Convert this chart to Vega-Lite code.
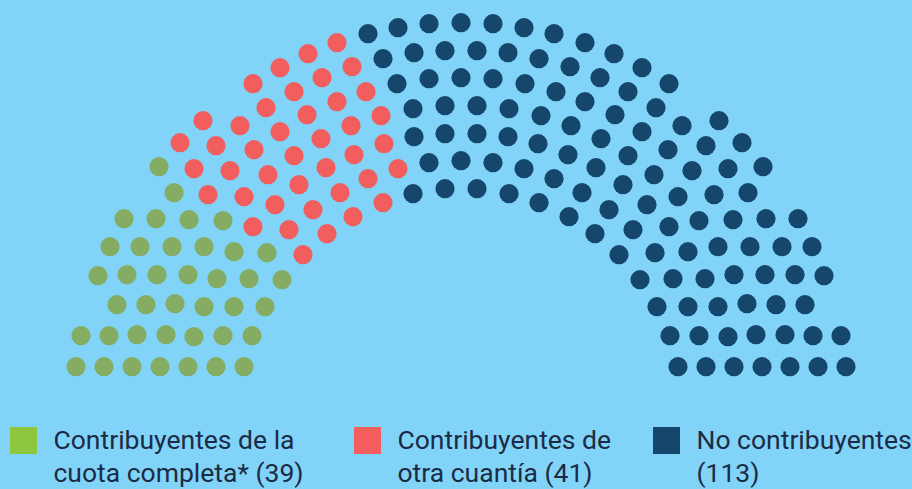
{
  "$schema": "https://vega.github.io/schema/vega-lite/v6.json",
  "width": 912,
  "height": 489,
  "autosize": {"type": "none"},
  "padding": 0,
  "background": "#81d3f7",
  "config": {
    "view": {"stroke": null},
    "style": {"guide-label": {"lineHeight": 33, "dy": 8}},
    "legend": {
      "orient": "none", "padding": 0, "symbolType": "square", "symbolSize": 729, "symbolStrokeWidth": 0,
      "symbolOpacity": 1, "labelFont": "Roboto", "labelFontSize": 26.5, "labelColor": "#1c2b45", "labelLimit": 400,
      "labelOffset": 16.5, "labelBaseline": "alphabetic"
    }
  },
  "datasets": {
    "escanos": [
      {"grupo": "Cuota completa", "x": -385, "y": 0}, {"grupo": "Cuota completa", "x": -357, "y": 0}, {"grupo": "Cuota completa", "x": -329, "y": 0}, {"grupo": "Cuota completa", "x": -301, "y": 0}, {"grupo": "Cuota completa", "x": -273, "y": 0}, {"grupo": "Cuota completa", "x": -245, "y": 0}, {"grupo": "Cuota completa", "x": -217, "y": 0},
      {"grupo": "Cuota completa", "x": -380, "y": 31}, {"grupo": "Cuota completa", "x": -352, "y": 31}, {"grupo": "Cuota completa", "x": -324, "y": 32}, {"grupo": "Cuota completa", "x": -295, "y": 32}, {"grupo": "Cuota completa", "x": -267, "y": 30}, {"grupo": "Cuota completa", "x": -238, "y": 31}, {"grupo": "Cuota completa", "x": -209, "y": 31},
      {"grupo": "Cuota completa", "x": -344, "y": 62}, {"grupo": "Cuota completa", "x": -315, "y": 62}, {"grupo": "Cuota completa", "x": -286, "y": 63}, {"grupo": "Cuota completa", "x": -257, "y": 60}, {"grupo": "Cuota completa", "x": -227, "y": 60}, {"grupo": "Cuota completa", "x": -196, "y": 60},
      {"grupo": "Cuota completa", "x": -363, "y": 91}, {"grupo": "Cuota completa", "x": -334, "y": 92}, {"grupo": "Cuota completa", "x": -304, "y": 92}, {"grupo": "Cuota completa", "x": -273, "y": 92}, {"grupo": "Cuota completa", "x": -244, "y": 88}, {"grupo": "Cuota completa", "x": -212, "y": 88}, {"grupo": "Cuota completa", "x": -179, "y": 87},
      {"grupo": "Cuota completa", "x": -351, "y": 120}, {"grupo": "Cuota completa", "x": -321, "y": 120}, {"grupo": "Cuota completa", "x": -289, "y": 120}, {"grupo": "Cuota completa", "x": -257, "y": 120}, {"grupo": "Cuota completa", "x": -227, "y": 115}, {"grupo": "Cuota completa", "x": -194, "y": 114},
      {"grupo": "Cuota completa", "x": -337, "y": 148}, {"grupo": "Cuota completa", "x": -305, "y": 148}, {"grupo": "Cuota completa", "x": -272, "y": 147}, {"grupo": "Cuota completa", "x": -238, "y": 146},
      {"grupo": "Cuota completa", "x": -287, "y": 174}, {"grupo": "Cuota completa", "x": -302, "y": 200},

      {"grupo": "Otra cuantía", "x": -158, "y": 112},
      {"grupo": "Otra cuantía", "x": -208, "y": 140}, {"grupo": "Otra cuantía", "x": -172, "y": 137}, {"grupo": "Otra cuantía", "x": -134, "y": 133},
      {"grupo": "Otra cuantía", "x": -253, "y": 172}, {"grupo": "Otra cuantía", "x": -217, "y": 170}, {"grupo": "Otra cuantía", "x": -186, "y": 162}, {"grupo": "Otra cuantía", "x": -148, "y": 157}, {"grupo": "Otra cuantía", "x": -108, "y": 150}, {"grupo": "Otra cuantía", "x": -78, "y": 164},
      {"grupo": "Otra cuantía", "x": -267, "y": 198}, {"grupo": "Otra cuantía", "x": -231, "y": 196}, {"grupo": "Otra cuantía", "x": -193, "y": 192}, {"grupo": "Otra cuantía", "x": -162, "y": 182}, {"grupo": "Otra cuantía", "x": -121, "y": 174}, {"grupo": "Otra cuantía", "x": -93, "y": 188}, {"grupo": "Otra cuantía", "x": -63, "y": 198},
      {"grupo": "Otra cuantía", "x": -281, "y": 224}, {"grupo": "Otra cuantía", "x": -245, "y": 221}, {"grupo": "Otra cuantía", "x": -207, "y": 217}, {"grupo": "Otra cuantía", "x": -167, "y": 211}, {"grupo": "Otra cuantía", "x": -135, "y": 199}, {"grupo": "Otra cuantía", "x": -107, "y": 212}, {"grupo": "Otra cuantía", "x": -77, "y": 223},
      {"grupo": "Otra cuantía", "x": -258, "y": 246}, {"grupo": "Otra cuantía", "x": -221, "y": 241}, {"grupo": "Otra cuantía", "x": -181, "y": 235}, {"grupo": "Otra cuantía", "x": -140, "y": 228}, {"grupo": "Otra cuantía", "x": -110, "y": 241}, {"grupo": "Otra cuantía", "x": -80, "y": 251},
      {"grupo": "Otra cuantía", "x": -195, "y": 259}, {"grupo": "Otra cuantía", "x": -154, "y": 252}, {"grupo": "Otra cuantía", "x": -124, "y": 265}, {"grupo": "Otra cuantía", "x": -95, "y": 275},
      {"grupo": "Otra cuantía", "x": -208, "y": 283}, {"grupo": "Otra cuantía", "x": -167, "y": 275}, {"grupo": "Otra cuantía", "x": -139, "y": 289}, {"grupo": "Otra cuantía", "x": -109, "y": 300},
      {"grupo": "Otra cuantía", "x": -181, "y": 299}, {"grupo": "Otra cuantía", "x": -153, "y": 313}, {"grupo": "Otra cuantía", "x": -124, "y": 324},

      {"grupo": "No contribuyentes", "x": -93, "y": 333}, {"grupo": "No contribuyentes", "x": -63, "y": 339}, {"grupo": "No contribuyentes", "x": -32, "y": 343},
      {"grupo": "No contribuyentes", "x": -78, "y": 308}, {"grupo": "No contribuyentes", "x": -47, "y": 314}, {"grupo": "No contribuyentes", "x": -16, "y": 316},
      {"grupo": "No contribuyentes", "x": -64, "y": 283}, {"grupo": "No contribuyentes", "x": -32, "y": 288},
      {"grupo": "No contribuyentes", "x": -48, "y": 258}, {"grupo": "No contribuyentes", "x": -16, "y": 261},
      {"grupo": "No contribuyentes", "x": -47, "y": 230}, {"grupo": "No contribuyentes", "x": -16, "y": 233},
      {"grupo": "No contribuyentes", "x": -32, "y": 204},
      {"grupo": "No contribuyentes", "x": -48, "y": 173}, {"grupo": "No contribuyentes", "x": -16, "y": 178},
      {"grupo": "No contribuyentes", "x": 0, "y": 344}, {"grupo": "No contribuyentes", "x": 0, "y": 289}, {"grupo": "No contribuyentes", "x": 0, "y": 206},
      {"grupo": "No contribuyentes", "x": 93, "y": 333}, {"grupo": "No contribuyentes", "x": 63, "y": 339}, {"grupo": "No contribuyentes", "x": 32, "y": 343},
      {"grupo": "No contribuyentes", "x": 78, "y": 308}, {"grupo": "No contribuyentes", "x": 47, "y": 314}, {"grupo": "No contribuyentes", "x": 16, "y": 316},
      {"grupo": "No contribuyentes", "x": 64, "y": 283}, {"grupo": "No contribuyentes", "x": 32, "y": 288},
      {"grupo": "No contribuyentes", "x": 48, "y": 258}, {"grupo": "No contribuyentes", "x": 16, "y": 261},
      {"grupo": "No contribuyentes", "x": 47, "y": 230}, {"grupo": "No contribuyentes", "x": 16, "y": 233},
      {"grupo": "No contribuyentes", "x": 32, "y": 204},
      {"grupo": "No contribuyentes", "x": 48, "y": 173}, {"grupo": "No contribuyentes", "x": 16, "y": 178},
      {"grupo": "No contribuyentes", "x": 158, "y": 112},
      {"grupo": "No contribuyentes", "x": 208, "y": 140}, {"grupo": "No contribuyentes", "x": 172, "y": 137}, {"grupo": "No contribuyentes", "x": 134, "y": 133},
      {"grupo": "No contribuyentes", "x": 253, "y": 172}, {"grupo": "No contribuyentes", "x": 217, "y": 170}, {"grupo": "No contribuyentes", "x": 186, "y": 162}, {"grupo": "No contribuyentes", "x": 148, "y": 157}, {"grupo": "No contribuyentes", "x": 108, "y": 150}, {"grupo": "No contribuyentes", "x": 78, "y": 164},
      {"grupo": "No contribuyentes", "x": 267, "y": 198}, {"grupo": "No contribuyentes", "x": 231, "y": 196}, {"grupo": "No contribuyentes", "x": 193, "y": 192}, {"grupo": "No contribuyentes", "x": 162, "y": 182}, {"grupo": "No contribuyentes", "x": 121, "y": 174}, {"grupo": "No contribuyentes", "x": 93, "y": 188}, {"grupo": "No contribuyentes", "x": 63, "y": 198},
      {"grupo": "No contribuyentes", "x": 281, "y": 224}, {"grupo": "No contribuyentes", "x": 245, "y": 221}, {"grupo": "No contribuyentes", "x": 207, "y": 217}, {"grupo": "No contribuyentes", "x": 167, "y": 211}, {"grupo": "No contribuyentes", "x": 135, "y": 199}, {"grupo": "No contribuyentes", "x": 107, "y": 212}, {"grupo": "No contribuyentes", "x": 77, "y": 223},
      {"grupo": "No contribuyentes", "x": 258, "y": 246}, {"grupo": "No contribuyentes", "x": 221, "y": 241}, {"grupo": "No contribuyentes", "x": 181, "y": 235}, {"grupo": "No contribuyentes", "x": 140, "y": 228}, {"grupo": "No contribuyentes", "x": 110, "y": 241}, {"grupo": "No contribuyentes", "x": 80, "y": 251},
      {"grupo": "No contribuyentes", "x": 195, "y": 259}, {"grupo": "No contribuyentes", "x": 154, "y": 252}, {"grupo": "No contribuyentes", "x": 124, "y": 265}, {"grupo": "No contribuyentes", "x": 95, "y": 275},
      {"grupo": "No contribuyentes", "x": 208, "y": 283}, {"grupo": "No contribuyentes", "x": 167, "y": 275}, {"grupo": "No contribuyentes", "x": 139, "y": 289}, {"grupo": "No contribuyentes", "x": 109, "y": 300},
      {"grupo": "No contribuyentes", "x": 181, "y": 299}, {"grupo": "No contribuyentes", "x": 153, "y": 313}, {"grupo": "No contribuyentes", "x": 124, "y": 324},
      {"grupo": "No contribuyentes", "x": 385, "y": 0}, {"grupo": "No contribuyentes", "x": 357, "y": 0}, {"grupo": "No contribuyentes", "x": 329, "y": 0}, {"grupo": "No contribuyentes", "x": 301, "y": 0}, {"grupo": "No contribuyentes", "x": 273, "y": 0}, {"grupo": "No contribuyentes", "x": 245, "y": 0}, {"grupo": "No contribuyentes", "x": 217, "y": 0},
      {"grupo": "No contribuyentes", "x": 380, "y": 31}, {"grupo": "No contribuyentes", "x": 352, "y": 31}, {"grupo": "No contribuyentes", "x": 324, "y": 32}, {"grupo": "No contribuyentes", "x": 295, "y": 32}, {"grupo": "No contribuyentes", "x": 267, "y": 30}, {"grupo": "No contribuyentes", "x": 238, "y": 31}, {"grupo": "No contribuyentes", "x": 209, "y": 31},
      {"grupo": "No contribuyentes", "x": 344, "y": 62}, {"grupo": "No contribuyentes", "x": 315, "y": 62}, {"grupo": "No contribuyentes", "x": 286, "y": 63}, {"grupo": "No contribuyentes", "x": 257, "y": 60}, {"grupo": "No contribuyentes", "x": 227, "y": 60}, {"grupo": "No contribuyentes", "x": 196, "y": 60},
      {"grupo": "No contribuyentes", "x": 363, "y": 91}, {"grupo": "No contribuyentes", "x": 334, "y": 92}, {"grupo": "No contribuyentes", "x": 304, "y": 92}, {"grupo": "No contribuyentes", "x": 273, "y": 92}, {"grupo": "No contribuyentes", "x": 244, "y": 88}, {"grupo": "No contribuyentes", "x": 212, "y": 88}, {"grupo": "No contribuyentes", "x": 179, "y": 87},
      {"grupo": "No contribuyentes", "x": 351, "y": 120}, {"grupo": "No contribuyentes", "x": 321, "y": 120}, {"grupo": "No contribuyentes", "x": 289, "y": 120}, {"grupo": "No contribuyentes", "x": 257, "y": 120}, {"grupo": "No contribuyentes", "x": 227, "y": 115}, {"grupo": "No contribuyentes", "x": 194, "y": 114},
      {"grupo": "No contribuyentes", "x": 337, "y": 148}, {"grupo": "No contribuyentes", "x": 305, "y": 148}, {"grupo": "No contribuyentes", "x": 272, "y": 147}, {"grupo": "No contribuyentes", "x": 238, "y": 146},
      {"grupo": "No contribuyentes", "x": 287, "y": 174}, {"grupo": "No contribuyentes", "x": 302, "y": 200}
    ]
  },
  "data": {"name": "escanos"},
  "encoding": {
    "x": {"field": "x", "type": "quantitative", "scale": {"domain": [-461, 451], "nice": false, "zero": false}, "axis": null},
    "y": {"field": "y", "type": "quantitative", "scale": {"domain": [-122.3, 366.7], "nice": false, "zero": false}, "axis": null}
  },
  "layer": [
    {
      "mark": {"type": "point", "shape": "circle", "filled": true, "opacity": 1, "size": 370, "strokeWidth": 0},
      "encoding": {
        "color": {
          "field": "grupo", "type": "nominal",
          "scale": {"domain": ["Cuota completa", "Otra cuantía", "No contribuyentes"], "range": ["#84ad63", "#f25e5e", "#15466b"]},
          "legend": null
        }
      }
    },
    {
      "transform": [{"filter": "datum.grupo === 'Cuota completa'"}],
      "mark": {"type": "point", "shape": "square", "filled": true, "opacity": 0, "size": 10},
      "encoding": {
        "fill": {
          "field": "grupo", "type": "nominal",
          "scale": {"domain": ["Cuota completa"], "range": ["#8dc63f"]},
          "legend": {"title": null, "legendX": 10, "legendY": 427, "labelExpr": "['Contribuyentes de la', 'cuota completa* (39)']"}
        }
      }
    },
    {
      "transform": [{"filter": "datum.grupo === 'Otra cuantía'"}],
      "mark": {"type": "point", "shape": "square", "filled": true, "opacity": 0, "size": 10},
      "encoding": {
        "fill": {
          "field": "grupo", "type": "nominal",
          "scale": {"domain": ["Otra cuantía"], "range": ["#f45e5e"]},
          "legend": {"title": null, "legendX": 354, "legendY": 427, "labelExpr": "['Contribuyentes de', 'otra cuantía (41)']"}
        }
      }
    },
    {
      "transform": [{"filter": "datum.grupo === 'No contribuyentes'"}],
      "mark": {"type": "point", "shape": "square", "filled": true, "opacity": 0, "size": 10},
      "encoding": {
        "fill": {
          "field": "grupo", "type": "nominal",
          "scale": {"domain": ["No contribuyentes"], "range": ["#15466b"]},
          "legend": {"title": null, "legendX": 653, "legendY": 427, "labelExpr": "['No contribuyentes', '(113)']"}
        }
      }
    }
  ],
  "resolve": {"scale": {"fill": "independent"}, "legend": {"fill": "independent"}}
}
